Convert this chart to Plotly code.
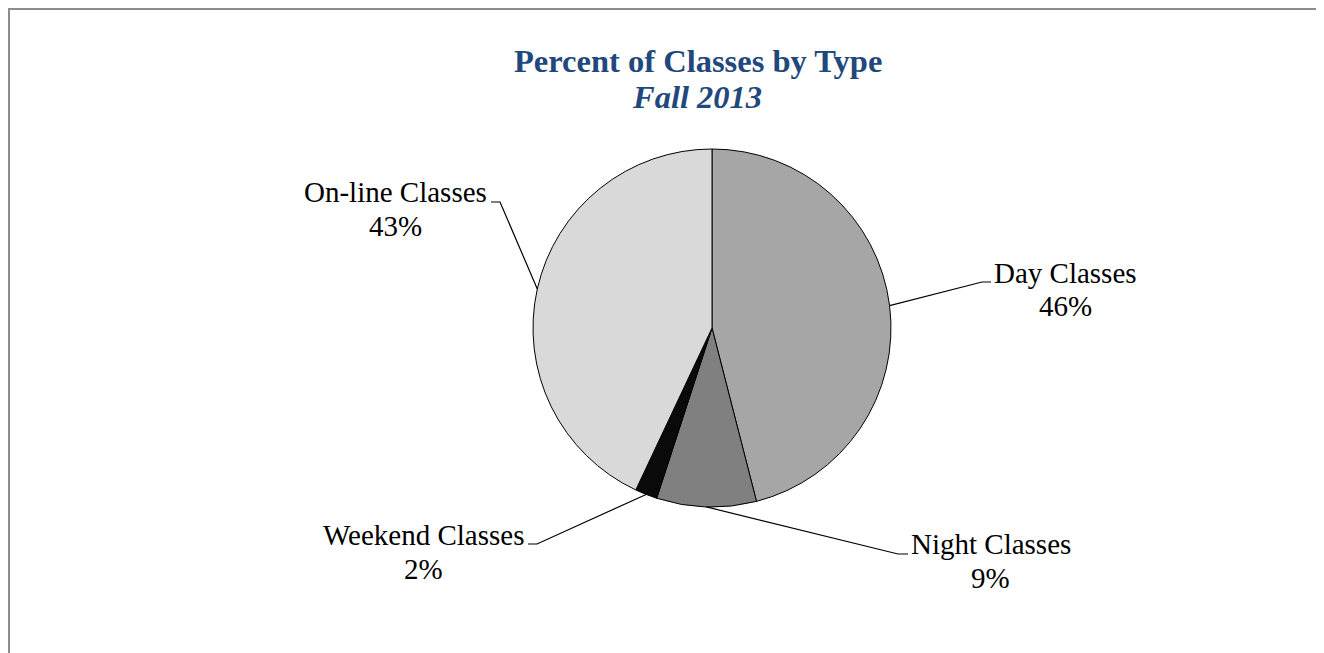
import math
import plotly.graph_objects as go

# ---- data ----
categories = ["Day Classes", "Night Classes", "Weekend Classes", "On-line Classes"]
percents = [46, 9, 2, 43]
colors = ["#A6A6A6", "#808080", "#0A0A0A", "#D9D9D9"]

# ---- layout constants (page pixels) ----
OX, OY = 8, 8              # page body margin offset
W, H = 1316, 645           # figure size
CX, CY, R = 712, 328, 179  # pie centre / radius in page pixels

# label positions: centre x, middle of line 1 / line 2, elbow and end of the leader line
label_pos = {
    "Day Classes": dict(x=1065, y1=273.5, y2=306, elbow=(982, 282), end=(991, 282)),
    "Night Classes": dict(x=990.5, y1=543.5, y2=578, elbow=(898, 554), end=(908, 554)),
    "Weekend Classes": dict(x=423, y1=534.5, y2=568.5, elbow=(537, 544), end=(528, 544)),
    "On-line Classes": dict(x=395.5, y1=192.5, y2=226, elbow=(500, 202), end=(491, 202)),
}

def px(x):
    return (x - OX) / W

def py(y):
    return 1 - (y - OY) / H

fig = go.Figure()
fig.add_trace(go.Pie(
    labels=categories,
    values=percents,
    sort=False,
    direction="clockwise",
    rotation=0,
    marker=dict(colors=colors, line=dict(color="#000000", width=1)),
    textinfo="none",
    hoverinfo="label+percent",
    showlegend=False,
    domain=dict(x=[px(CX - R), px(CX + R)], y=[py(CY + R), py(CY - R)]),
))

annotations = []
shapes = []
total = sum(percents)
cum = 0
LABEL_FONT = dict(family="Liberation Serif", size=29, color="#000000")
for cat, val in zip(categories, percents):
    mid = (cum + val / 2) / total * 2 * math.pi
    cum += val
    sx = CX + R * math.sin(mid)
    sy = CY - R * math.cos(mid)
    lp = label_pos[cat]
    ex, ey = lp["elbow"]
    fx, fy = lp["end"]
    path = f"M {px(sx)} {py(sy)} L {px(ex)} {py(ey)} L {px(fx)} {py(fy)}"
    shapes.append(dict(type="path", xref="paper", yref="paper", path=path,
                       line=dict(color="#000000", width=1.2)))
    annotations.append(dict(text=cat, x=px(lp["x"]), y=py(lp["y1"]), xref="paper", yref="paper",
                            showarrow=False, xanchor="center", yanchor="middle", font=LABEL_FONT))
    annotations.append(dict(text=f"{val}%", x=px(lp["x"]), y=py(lp["y2"]), xref="paper", yref="paper",
                            showarrow=False, xanchor="center", yanchor="middle", font=LABEL_FONT))

# title lines
TITLE_FONT = dict(family="Liberation Serif", size=32.5, color="#1F497D")
annotations.append(dict(text="<b>Percent of Classes by Type</b>", x=px(698), y=py(61),
                        xref="paper", yref="paper", showarrow=False, xanchor="center", yanchor="middle",
                        font=TITLE_FONT))
annotations.append(dict(text="<b><i>Fall 2013</i></b>", x=px(697), y=py(97),
                        xref="paper", yref="paper", showarrow=False, xanchor="center", yanchor="middle",
                        font=TITLE_FONT))

# frame (left and top edges visible)
shapes.append(dict(type="line", xref="paper", yref="paper", x0=px(9), y0=1, x1=px(9), y1=0,
                   line=dict(color="#8C8C8C", width=2)))
shapes.append(dict(type="line", xref="paper", yref="paper", x0=px(8), y0=py(9), x1=1, y1=py(9),
                   line=dict(color="#8C8C8C", width=2)))

fig.update_layout(
    width=W, height=H,
    margin=dict(l=0, r=0, t=0, b=0),
    paper_bgcolor="#FFFFFF",
    plot_bgcolor="#FFFFFF",
    annotations=annotations,
    shapes=shapes,
)

fig.write_html("out.html")
